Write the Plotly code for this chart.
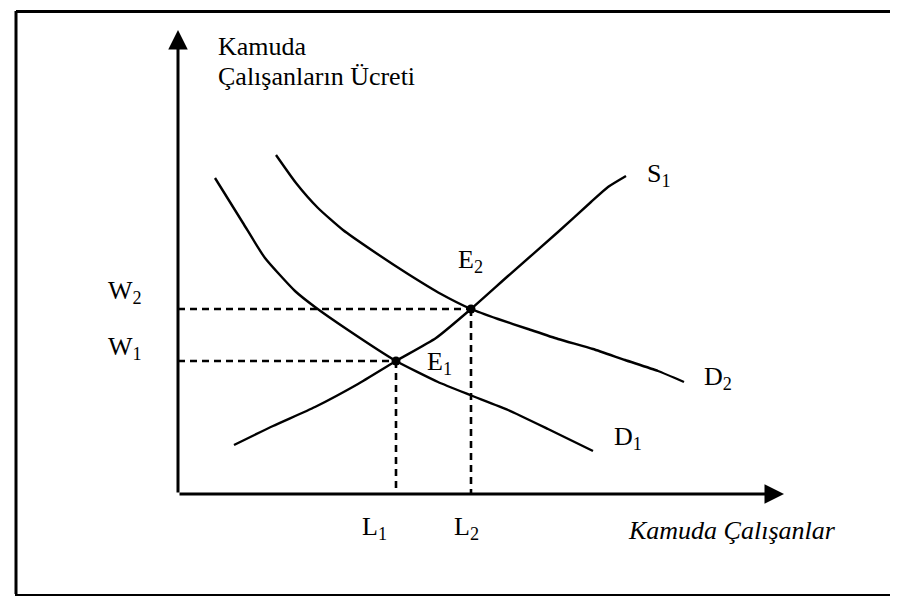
import plotly.graph_objects as go

# Curve data (x = employment, y = wage), origin at axes intersection
d1_x = [37, 65, 87, 117, 137, 170, 218, 260, 292, 330, 370, 415]
d1_y = [316, 271, 236, 203, 187, 164, 133, 112, 99, 84, 65, 43]

d2_x = [98, 118, 140, 165, 195, 230, 263, 293, 320, 350, 380, 415, 447, 480, 506]
d2_y = [339, 311, 286, 264, 243, 220, 200, 185, 175, 165, 155, 145, 134, 123, 112]

s1_x = [56, 95, 137, 180, 218, 258, 293, 330, 380, 413, 430, 448]
s1_y = [49, 68, 87, 110, 133, 156, 185, 218, 262, 292, 307, 318]

eq_x = [218, 293]
eq_y = [133, 185]

x_axis_max = 606
y_axis_max = 464

FONT = "Liberation Serif"
FS = 26

fig = go.Figure()

line_style = dict(color="black", width=2.4, shape="spline", smoothing=0.5)
for xs, ys in [(d1_x, d1_y), (d2_x, d2_y), (s1_x, s1_y)]:
    fig.add_trace(go.Scatter(x=xs, y=ys, mode="lines", line=line_style,
                             hoverinfo="skip", showlegend=False))

# dashed guide lines from equilibria
for ex, ey in zip(eq_x, eq_y):
    fig.add_trace(go.Scatter(x=[0, ex], y=[ey, ey], mode="lines",
                             line=dict(color="black", width=2.6, dash="7px,5px"),
                             hoverinfo="skip", showlegend=False))
    fig.add_trace(go.Scatter(x=[ex, ex], y=[ey, 0], mode="lines",
                             line=dict(color="black", width=2.6, dash="7px,5px"),
                             hoverinfo="skip", showlegend=False))

fig.add_trace(go.Scatter(x=eq_x, y=eq_y, mode="markers",
                         marker=dict(color="black", size=9),
                         hoverinfo="skip", showlegend=False))

# axes with arrows
ann = []
ann.append(dict(x=0, y=y_axis_max, ax=0, ay=0, xref="x", yref="y", axref="x", ayref="y",
                showarrow=True, arrowhead=2, arrowsize=1.3, arrowwidth=3, arrowcolor="black", text=""))
ann.append(dict(x=x_axis_max, y=0, ax=0, ay=0, xref="x", yref="y", axref="x", ayref="y",
                showarrow=True, arrowhead=2, arrowsize=1.3, arrowwidth=3, arrowcolor="black", text=""))

def label(txt, x, y, xa="center", size=FS, italic=False):
    ann.append(dict(x=x, y=y, xref="x", yref="y", text=txt, showarrow=False,
                    xanchor=xa, yanchor="middle",
                    font=dict(family=FONT, size=size, color="black",
                              style="italic" if italic else "normal")))

label("Kamuda", 38, 448, xa="left")
label("Çalışanların Ücreti", 38, 418, xa="left")
label("W<sub>2</sub>", -53, 202)
label("W<sub>1</sub>", -53, 146)
label("E<sub>2</sub>", 292, 233)
label("E<sub>1</sub>", 261, 131)
label("S<sub>1</sub>", 481, 319)
label("D<sub>2</sub>", 540, 116)
label("D<sub>1</sub>", 450, 56)
label("L<sub>1</sub>", 196, -34)
label("L<sub>2</sub>", 288, -34)
label("Kamuda Çalışanlar", 660, -36, xa="right", size=26, italic=True)

W, H = 898, 596
shapes = [
    dict(type="line", xref="paper", yref="paper", x0=8 / W, x1=1, y0=1 - 3.5 / H, y1=1 - 3.5 / H,
         line=dict(color="black", width=3)),
    dict(type="line", xref="paper", yref="paper", x0=8 / W, x1=8 / W, y0=1 - 3 / H, y1=10 / H,
         line=dict(color="black", width=3)),
    dict(type="rect", xref="paper", yref="paper", x0=7 / W, x1=1, y0=0, y1=10 / H,
         fillcolor="black", line=dict(width=0)),
]

fig.update_layout(
    width=W, height=H, margin=dict(l=0, r=0, t=0, b=0),
    paper_bgcolor="white", plot_bgcolor="white",
    xaxis=dict(range=[-170, 728], visible=False, fixedrange=True),
    yaxis=dict(range=[-110, 486], visible=False, fixedrange=True),
    annotations=ann, shapes=shapes,
)

fig.write_html("out.html")
